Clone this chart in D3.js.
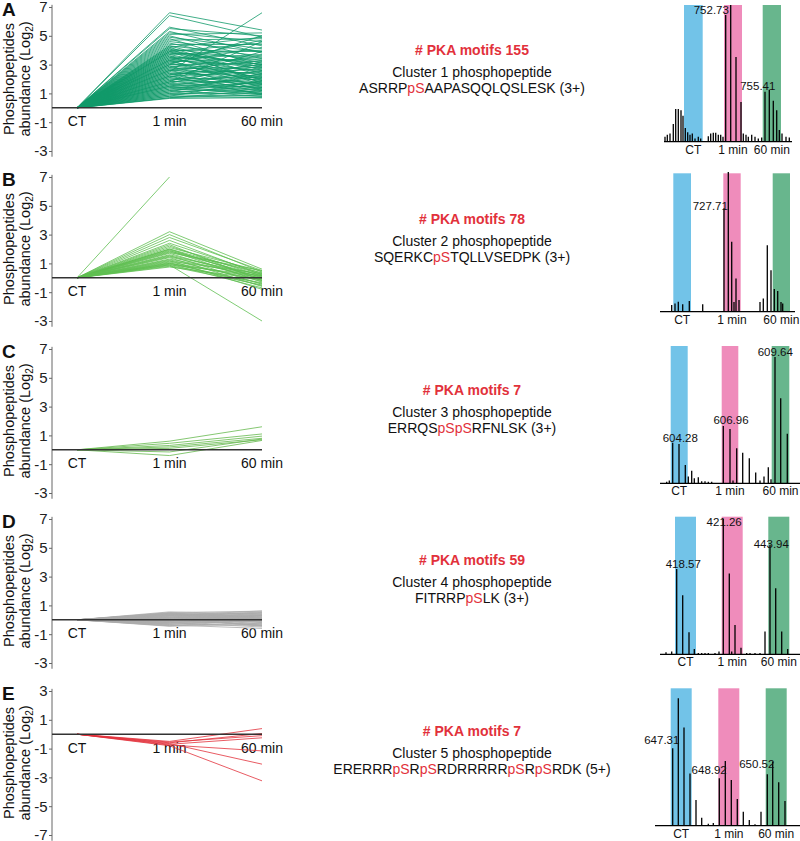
<!DOCTYPE html>
<html><head><meta charset="utf-8">
<script src="https://cdn.jsdelivr.net/npm/d3@7"></script>
<style>
body{margin:0;background:#fff}
svg{display:block;font-family:"Liberation Sans",Arial,Helvetica,sans-serif}
</style>
</head><body>
<svg id="c" width="800" height="841"></svg>
<script>
// ---------- DATA ----------
const timepoints = ["CT", "1 min", "60 min"];
const panelLetters = ["A", "B", "C", "D", "E"];
const ticksUp = [7, 5, 3, 1, -1, -3];
const ticksDown = [3, 1, -1, -3, -5, -7];
const pkaMotifs = [155, 78, 7, 59, 7];
const clusterNames = ["Cluster 1 phosphopeptide", "Cluster 2 phosphopeptide", "Cluster 3 phosphopeptide", "Cluster 4 phosphopeptide", "Cluster 5 phosphopeptide"];
const peptides = ["ASRRPpSAAPASQQLQSLESK (3+)", "SQERKCpSTQLLVSEDPK (3+)", "ERRQSpSpSRFNLSK (3+)", "FITRRPpSLK (3+)", "ERERRRpSRpSRDRRRRRpSRpSRDK (5+)"];

// log2 abundance at [1 min, 60 min] (CT = 0)
const cluster1 = [
 [6.6,5.4],[6.4,4.9],[5.6,4.3],[5.5,5.0],[5.3,3.8],[5.2,4.6],[5.1,5.2],[5.0,3.4],[4.9,4.1],[4.8,2.9],
 [4.7,4.8],[4.6,3.9],[4.5,3.1],[4.4,4.4],[4.3,2.6],[4.3,3.6],[4.2,4.9],[4.2,2.2],[4.1,3.3],[4.0,3.9],
 [4.0,2.8],[3.9,4.5],[3.9,1.9],[3.8,3.0],[3.8,3.5],[3.7,2.4],[3.7,4.0],[3.6,2.7],[3.6,1.6],[3.5,3.2],
 [3.5,2.0],[3.4,3.7],[3.4,2.5],[3.3,1.4],[3.3,2.9],[3.2,3.4],[3.2,2.1],[3.1,4.2],[3.1,1.8],[3.0,2.6],
 [3.0,3.1],[2.9,1.2],[2.9,2.3],[2.8,3.6],[2.8,2.0],[2.7,2.8],[2.7,1.5],[2.6,2.4],[2.6,3.3],[2.5,6.6],
 [2.5,1.9],[2.4,2.2],[2.4,1.1],[2.3,2.7],[2.3,3.0],[2.2,1.7],[2.2,2.5],[2.1,1.3],[2.1,3.9],[2.0,2.1],
 [2.0,1.6],[1.9,2.9],[1.9,1.0],[1.8,2.3],[1.8,1.8],[1.7,1.4],[1.7,3.2],[1.6,2.0],[1.6,1.2],[1.5,1.7],
 [1.5,2.6],[1.4,0.9],[1.4,1.5],[1.3,2.2],[1.3,1.1],[1.2,1.8],[1.2,0.8],[1.1,1.4],[1.1,2.4],[1.0,1.0],
 [1.0,1.6],[0.9,0.8],[0.9,1.3],[0.8,0.7],[0.8,1.9],[0.7,0.9],[0.7,1.2],[0.65,0.7],[3.9,3.0],[2.6,1.3],
 [1.8,4.6],[4.1,1.7],[3.0,5.0],[2.2,0.9],[1.5,1.0],[3.3,4.7]
];
const cluster2 = [
 [7.0,null],[3.2,0.6],[3.0,0.4],[2.8,0.5],[2.6,0.2],[2.4,0.3],[2.2,0.1],[2.1,0.45],[2.0,-0.1],[2.0,0.25],
 [1.95,0.0],[1.9,-0.3],[1.85,0.35],[1.8,0.15],[1.7,-0.2],[1.6,0.05],[1.55,-0.45],[1.5,0.2],[1.45,-0.05],[1.4,-0.6],
 [1.3,0.1],[1.25,-0.25],[1.2,-0.8],[1.15,0.3],[1.1,-0.15],[1.0,-0.4],[1.0,0.0],[0.95,-0.7],[0.9,0.15],[0.85,-0.35],
 [0.8,-0.5],[0.9,-3.0],[0.75,-0.1],[1.05,-0.55],[2.3,-0.2],[1.75,0.5]
];
const cluster3 = [[0.6,1.6],[0.45,1.1],[0.3,0.95],[0.2,0.8],[0.1,0.7],[-0.15,0.75],[-0.4,0.65]];
const cluster4 = [
 [0.55,0.4],[0.5,0.6],[0.48,0.1],[0.45,0.3],[0.42,-0.2],[0.4,0.5],[0.38,0.2],[0.35,0.0],[0.33,0.45],[0.3,-0.1],
 [0.28,0.35],[0.25,0.15],[0.22,-0.3],[0.2,0.55],[0.18,0.05],[0.15,0.25],[0.12,-0.05],[0.1,0.4],[0.08,-0.4],[0.05,0.1],
 [0.03,0.3],[0.0,-0.15],[-0.02,0.2],[-0.05,-0.35],[-0.08,0.05],[-0.1,0.35],[-0.12,-0.25],[-0.15,0.0],[-0.18,-0.5],[-0.2,0.15],
 [-0.22,-0.1],[-0.25,0.3],[-0.28,-0.4],[-0.3,-0.05],[-0.33,0.1],[-0.36,-0.6],[-0.4,-0.2],[-0.42,0.0],[-0.45,-0.3],[0.3,0.62],
 [0.15,-0.45],[-0.05,0.5],[0.45,-0.02],[0.36,0.28]
];
const cluster5 = [[-0.5,0.39],[-0.6,0.05],[-0.55,-0.1],[-0.7,-0.25],[-0.75,-1.16],[-0.65,-2.08],[-0.8,-3.24]];

// spectra: [relative m/z position, relative intensity %]
const spectrum1 = [[5,3.7],[7.3,5],[10,6],[13.3,13],[15.7,24],[18.3,24],[21,23],[23,19],[25.3,10],[27.7,7],[30,5],[32.3,6],[35,2.4],[38.3,3.7],[40.7,2.4],[48.3,4],[50.7,6],[53.3,6.6],[55.7,6.6],[58.3,5],[60.7,5],[63,3.7],[65.7,92.7],[70.7,100],[76,62],[81,29],[83.3,6],[86,5],[88.3,3.7],[91.7,5],[95,3.7],[98.3,2.4],[101.7,3],[105,36.6],[109.3,38],[113.3,30],[116.7,23],[119.3,8.5],[122,6],[126,3.7],[129.3,3]];
const spectrum2 = [[11.7,4.8],[15,6],[18.3,7.2],[22.7,5.3],[29.3,7.7],[42.7,5.3],[64,74.7],[68.3,101],[71.7,50.6],[74,7],[76,24],[79,8.4],[100,7],[103.3,9.6],[107.3,48],[111,30],[114.3,16.4],[117.7,15],[121,7],[122.7,6]];
const spectrum3 = [[6.7,1.2],[9.3,2],[12.7,29.6],[19,28.6],[25.3,13.3],[28.3,4.9],[31.7,9.2],[34.3,3.6],[38.3,4.4],[41.7,1.5],[45,1.5],[48.3,1.2],[51.7,1.2],[63.3,41.7],[70,39.6],[73,2],[76.7,25.5],[82.7,22.3],[89.3,18.2],[95.7,7.8],[100,2],[104,4.9],[108.3,11.7],[111,3],[115,92],[120.7,62],[127.3,36]];
const spectrum4 = [[6,1.5],[11.7,2],[16.7,62],[22.7,43],[29,16],[34.3,3.9],[38.3,1],[41.7,1],[45,1],[48.3,1],[55,1],[59,2],[63.3,98.3],[69.3,58.8],[71.7,2],[75,21.3],[81,4.8],[86.7,1],[90,1],[95,1],[100,1],[105,16.5],[110,79.4],[115.7,48],[121.7,16.5],[127.7,3.9]];
const spectrum5 = [[12.7,56.3],[18.3,92.7],[24,71.4],[30,38],[36,18.7],[41.7,5.8],[48.3,1.5],[53.3,2],[59.3,34.5],[65.3,47],[71.3,33.3],[77.3,19.4],[83.3,10.2],[89.3,4.1],[95,1],[101,10.2],[107.3,37.4],[112.7,46.6],[118.7,31.6],[125,18]];
// acquisition windows (relative m/z) for CT, 1 min, 60 min
const windows1 = [[24,42.7],[64,82],[102.7,121]];
const windows2 = [[13.3,31],[63.3,80.7],[112.7,130]];
const windows3 = [[10.7,27.7],[61.7,78.3],[111.7,129.3]];
const windows4 = [[15,36],[61.7,82.7],[108.3,129.3]];
const windows5 = [[10.7,31.7],[58.3,79.3],[105.7,126.7]];
// peak annotations [label, position, intensity level]
const annot1 = [["752.73",51.3,93.4],["755.41",97.8,37.8]];
const annot2 = [["727.71",50.3,73.5]];
const annot3 = [["604.28",20.3,30.3],["606.96",71,43.2],["609.64",115.3,92.7]];
const annot4 = [["418.57",23.3,63],["421.26",64.2,93.5],["443.94",111.3,77.5]];
const annot5 = [["647.31",1.8,59.2],["648.92",49.2,37.4],["650.52",96.8,41.8]];
const baselineExtent = [[4,132],[0,135],[0,140],[0,140],[-5,140]];

// ---------- LAYOUT / STYLE ----------
const clusters = [cluster1, cluster2, cluster3, cluster4, cluster5];
const spectra = [spectrum1, spectrum2, spectrum3, spectrum4, spectrum5];
const windows = [windows1, windows2, windows3, windows4, windows5];
const annots = [annot1, annot2, annot3, annot4, annot5];
const lineColors = ["#10996a", "#5fbf52", "#66b94e", "#ababab", "#e2313b"];
const windowColors = ["#72c3e8", "#ef8cbb", "#68b68d"];
const panelTop = [7, 177, 349, 519, 691];
const specBase = [141.7, 311.7, 483.3, 654.3, 825.7];
const specTop = [5, 173.3, 346, 516.7, 688.3];
const titleBase = [55, 224, 395, 565, 736];
const unit = 14.4;
const axisX = 52;
const red = "#e2313b";

const svg = d3.select("#c");
const xPt = d3.scalePoint().domain(timepoints).range([77, 262]);
const sx = d3.scaleLinear().domain([0, 140]).range([660, 800]);

clusters.forEach((rows, i) => {
  const top = panelTop[i];
  const down = i === 4;
  const lo = down ? -7 : -3, hi = down ? 3 : 7;
  const y = d3.scaleLinear().domain([lo, hi]).range([top + (hi - lo) * unit, top]);
  const g = svg.append("g");

  // panel letter
  g.append("text").attr("x", 2).attr("y", top + 9).attr("font-size", 19).attr("font-weight", "bold").attr("fill", "#111").text(panelLetters[i]);

  // y-axis title
  const cy = top + 72;
  g.append("text").attr("transform", `translate(13.5,${cy}) rotate(-90)`).attr("text-anchor", "middle")
    .attr("font-size", 14.5).attr("fill", "#111").text("Phosphopeptides");
  const t2 = g.append("text").attr("transform", `translate(30,${cy}) rotate(-90)`).attr("text-anchor", "middle")
    .attr("font-size", 14.5).attr("fill", "#111");
  t2.append("tspan").text("abundance (Log");
  t2.append("tspan").attr("font-size", 10).attr("dy", 3).text("2");
  t2.append("tspan").attr("dy", -3).text(")");

  // axis
  const ax = g.append("g").attr("transform", `translate(${axisX},0)`)
    .call(d3.axisLeft(y).tickValues(down ? ticksDown : ticksUp).tickSize(3).tickSizeOuter(0).tickPadding(1.5).tickFormat(d => String(d)));
  ax.attr("font-size", 15).attr("font-family", null);
  ax.select(".domain").attr("d", `M0,${y(hi + 0.15)}V${y(lo - 0.4)}`).attr("stroke", "#666");
  ax.selectAll(".tick line").attr("stroke", "#666");
  ax.selectAll(".tick text").attr("fill", "#222").style("font-size", "15px");

  // x labels
  g.append("g").selectAll("text").data(timepoints).join("text")
    .attr("x", d => xPt(d)).attr("y", y(0) + 18.5).attr("text-anchor", "middle")
    .attr("font-size", 14).attr("fill", "#111").text(d => d);

  // profile lines
  const line = d3.line().defined(d => d[1] != null).x(d => xPt(d[0])).y(d => y(d[1]));
  g.append("g").selectAll("path").data(rows).join("path")
    .attr("d", r => line([[timepoints[0], 0], [timepoints[1], r[0]], [timepoints[2], r[1]]]))
    .attr("fill", "none").attr("stroke", lineColors[i]).attr("stroke-width", 0.8);

  // zero line
  g.append("line").attr("x1", axisX).attr("x2", xPt(timepoints[2])).attr("y1", y(0)).attr("y2", y(0))
    .attr("stroke", "#333").attr("stroke-width", 1.5);

  // middle texts
  const tb = titleBase[i];
  g.append("text").attr("x", 472).attr("y", tb).attr("text-anchor", "middle").attr("font-size", 14)
    .attr("font-weight", "bold").attr("fill", red).text("# PKA motifs " + pkaMotifs[i]);
  g.append("text").attr("x", 472).attr("y", tb + 22).attr("text-anchor", "middle").attr("font-size", 14)
    .attr("fill", "#111").text(clusterNames[i]);
  const seq = g.append("text").attr("x", 472).attr("y", tb + 38).attr("text-anchor", "middle").attr("font-size", 14).attr("fill", "#111");
  peptides[i].split(/(pS)/).filter(s => s.length).forEach(s => {
    seq.append("tspan").attr("fill", s === "pS" ? red : "#111").text(s);
  });

  // spectrum
  const sy = d3.scaleLinear().domain([0, 100]).range([specBase[i], specTop[i]]);
  const sg = svg.append("g");
  sg.selectAll("rect").data(windows[i]).join("rect")
    .attr("x", d => sx(d[0])).attr("width", d => sx(d[1]) - sx(d[0]))
    .attr("y", sy(100)).attr("height", sy(0) - sy(100))
    .attr("fill", (d, k) => windowColors[k]);
  sg.append("g").selectAll("line").data(spectra[i]).join("line")
    .attr("x1", d => sx(d[0])).attr("x2", d => sx(d[0]))
    .attr("y1", sy(0)).attr("y2", d => sy(d[1]))
    .attr("stroke", "#000").attr("stroke-width", 1.3);
  const be = baselineExtent[i];
  sg.append("line").attr("x1", sx(be[0])).attr("x2", sx(be[1])).attr("y1", sy(0)).attr("y2", sy(0))
    .attr("stroke", "#000").attr("stroke-width", 1.2);
  sg.append("g").selectAll("text").data(windows[i]).join("text")
    .attr("x", d => sx((d[0] + d[1]) / 2)).attr("y", sy(0) + 12).attr("text-anchor", "middle")
    .attr("font-size", 12).attr("fill", "#111").text((d, k) => timepoints[k]);
  sg.append("g").selectAll("text").data(annots[i]).join("text")
    .attr("x", d => sx(d[1])).attr("y", d => sy(d[2])).attr("text-anchor", "middle")
    .attr("font-size", 11.5).attr("fill", "#111").text(d => d[0]);
});
</script>
</body></html>
